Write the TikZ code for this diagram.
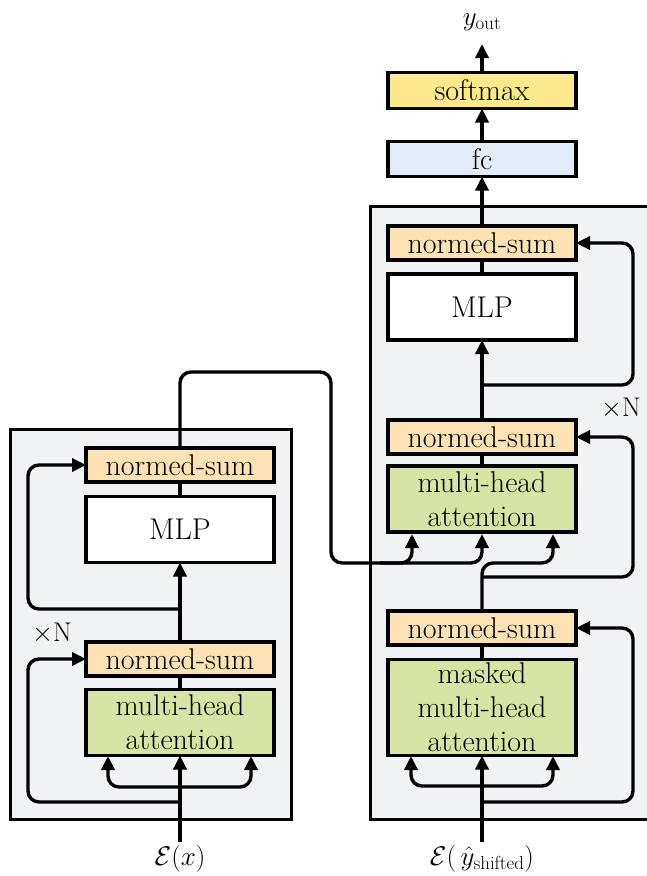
\RequirePackage{fix-cm}
\documentclass[tikz,border=0pt]{standalone}
\usepackage{fontspec}
\usetikzlibrary{arrows.meta}
\definecolor{bgc}{HTML}{F1F2F4}
\definecolor{nsc}{HTML}{FCE2B4}
\definecolor{attc}{HTML}{D7E4A5}
\definecolor{fcc}{HTML}{E1ECF8}
\definecolor{smc}{HTML}{FCE98E}
\begin{document}
\begin{tikzpicture}[x={(1pt,0)},y={(0,-1pt)},
  every node/.style={font=\fontsize{30}{34}\selectfont, inner sep=0pt, outer sep=0pt},
  blk/.style={draw, line width=3.4pt, minimum width=188pt, align=center},
  nsum/.style={blk, fill=nsc, minimum height=34pt},
  attn/.style={blk, fill=attc},
  mlpbox/.style={blk, fill=white, minimum height=66pt},
  panel/.style={draw, line width=3pt, fill=bgc},
  conn/.style={line width=3.4pt, rounded corners=11pt},
  arr/.style={conn, -{Triangle[length=14pt,width=13pt]}},
  lbl/.style={font=\fontsize{27}{30}\selectfont}
]
\useasboundingbox (0,0) rectangle (646,876);
% panels
\path[panel] (10,429) rectangle (291,819);
\path[panel] (370,206) rectangle (648,819);

% encoder
\node[nsum] (ens2) at (180,465) {normed-sum};
\node[mlpbox] (emlp) at (180,529.5) {MLP};
\node[nsum] (ens1) at (180,659) {normed-sum};
\node[attn, minimum height=66pt] (eatt) at (180,722.5) {multi-head\\attention};
\node[lbl] (ein) at (180,859) {$\mathcal{E}(x)$};
\node[lbl] (exn) at (52,633) {$\times$N};
\coordinate (ebot) at (180,842);
\coordinate (esplit) at (180,787);
\coordinate (eres1) at (180,802);
\coordinate (eres2) at (180,609);
\coordinate (ekl) at (108,756);
\coordinate (ekr) at (251,756);

% decoder
\node[nsum] (dns2) at (482,243) {normed-sum};
\node[mlpbox] (dmlp) at (482,307) {MLP};
\node[nsum] (dns1) at (482,437) {normed-sum};
\node[attn, minimum height=66pt] (datt) at (482,499) {multi-head\\attention};
\node[nsum] (dns0) at (482,628) {normed-sum};
\node[attn, minimum height=96pt] (dmatt) at (482,707.5) {masked\\multi-head\\attention};
\node[blk, fill=fcc, minimum height=35pt] (fc) at (482,159) {fc};
\node[blk, fill=smc, minimum height=36pt] (sm) at (482,90.5) {softmax};
\node[lbl] (yout) at (482,22) {$y_{\mathrm{out}}$};
\node[lbl] (din) at (482,859) {$\mathcal{E}(\mkern3mu\hat{y}_{\mathrm{shifted}})$};
\node[lbl] (dxn) at (621,408) {$\times$N};
\coordinate (dbot) at (482,842);
\coordinate (dsplit) at (482,786);
\coordinate (dres0) at (482,802);
\coordinate (dres1) at (482,577);
\coordinate (dres2) at (482,385);
\coordinate (dkl) at (411,756);
\coordinate (dkr) at (553,756);
\coordinate (ytop) at (482,44);

% encoder connectors
\draw[arr] (ebot) -- (eatt.south);
\draw[arr] (esplit) -| (ekl);
\draw[arr] (esplit) -| (ekr);
\draw[arr] (eres1) -- (28,802) -- (28,659) -- (ens1.west);
\draw[conn] (eatt.north) -- (ens1.south);
\draw[arr] (ens1.north) -- (emlp.south);
\draw[arr] (eres2) -- (28,609) -- (28,465) -- (ens2.west);
\draw[conn] (emlp.north) -- (ens2.south);
\draw[arr] (ens2.north) -- (180,372) -- (331,372) -- (331,563) -- (412,563) -- (412,534);
\draw[arr] (380,563) -- (482,563) -- (482,534);

% decoder connectors
\draw[arr] (dbot) -- (dmatt.south);
\draw[arr] (dsplit) -| (dkl);
\draw[arr] (dsplit) -| (dkr);
\draw[arr] (dres0) -- (633,802) -- (633,628) -- (dns0.east);
\draw[conn] (dmatt.north) -- (dns0.south);
\draw[arr] (dns0.north) -- (482,563) -- (553,563) -- (553,534);
\draw[arr] (dres1) -- (633,577) -- (633,437) -- (dns1.east);
\draw[conn] (datt.north) -- (dns1.south);
\draw[arr] (dns1.north) -- (dmlp.south);
\draw[arr] (dres2) -- (633,385) -- (633,243) -- (dns2.east);
\draw[conn] (dmlp.north) -- (dns2.south);
\draw[arr] (dns2.north) -- (fc.south);
\draw[arr] (fc.north) -- (sm.south);
\draw[arr] (sm.north) -- (ytop);
\end{tikzpicture}
\end{document}
